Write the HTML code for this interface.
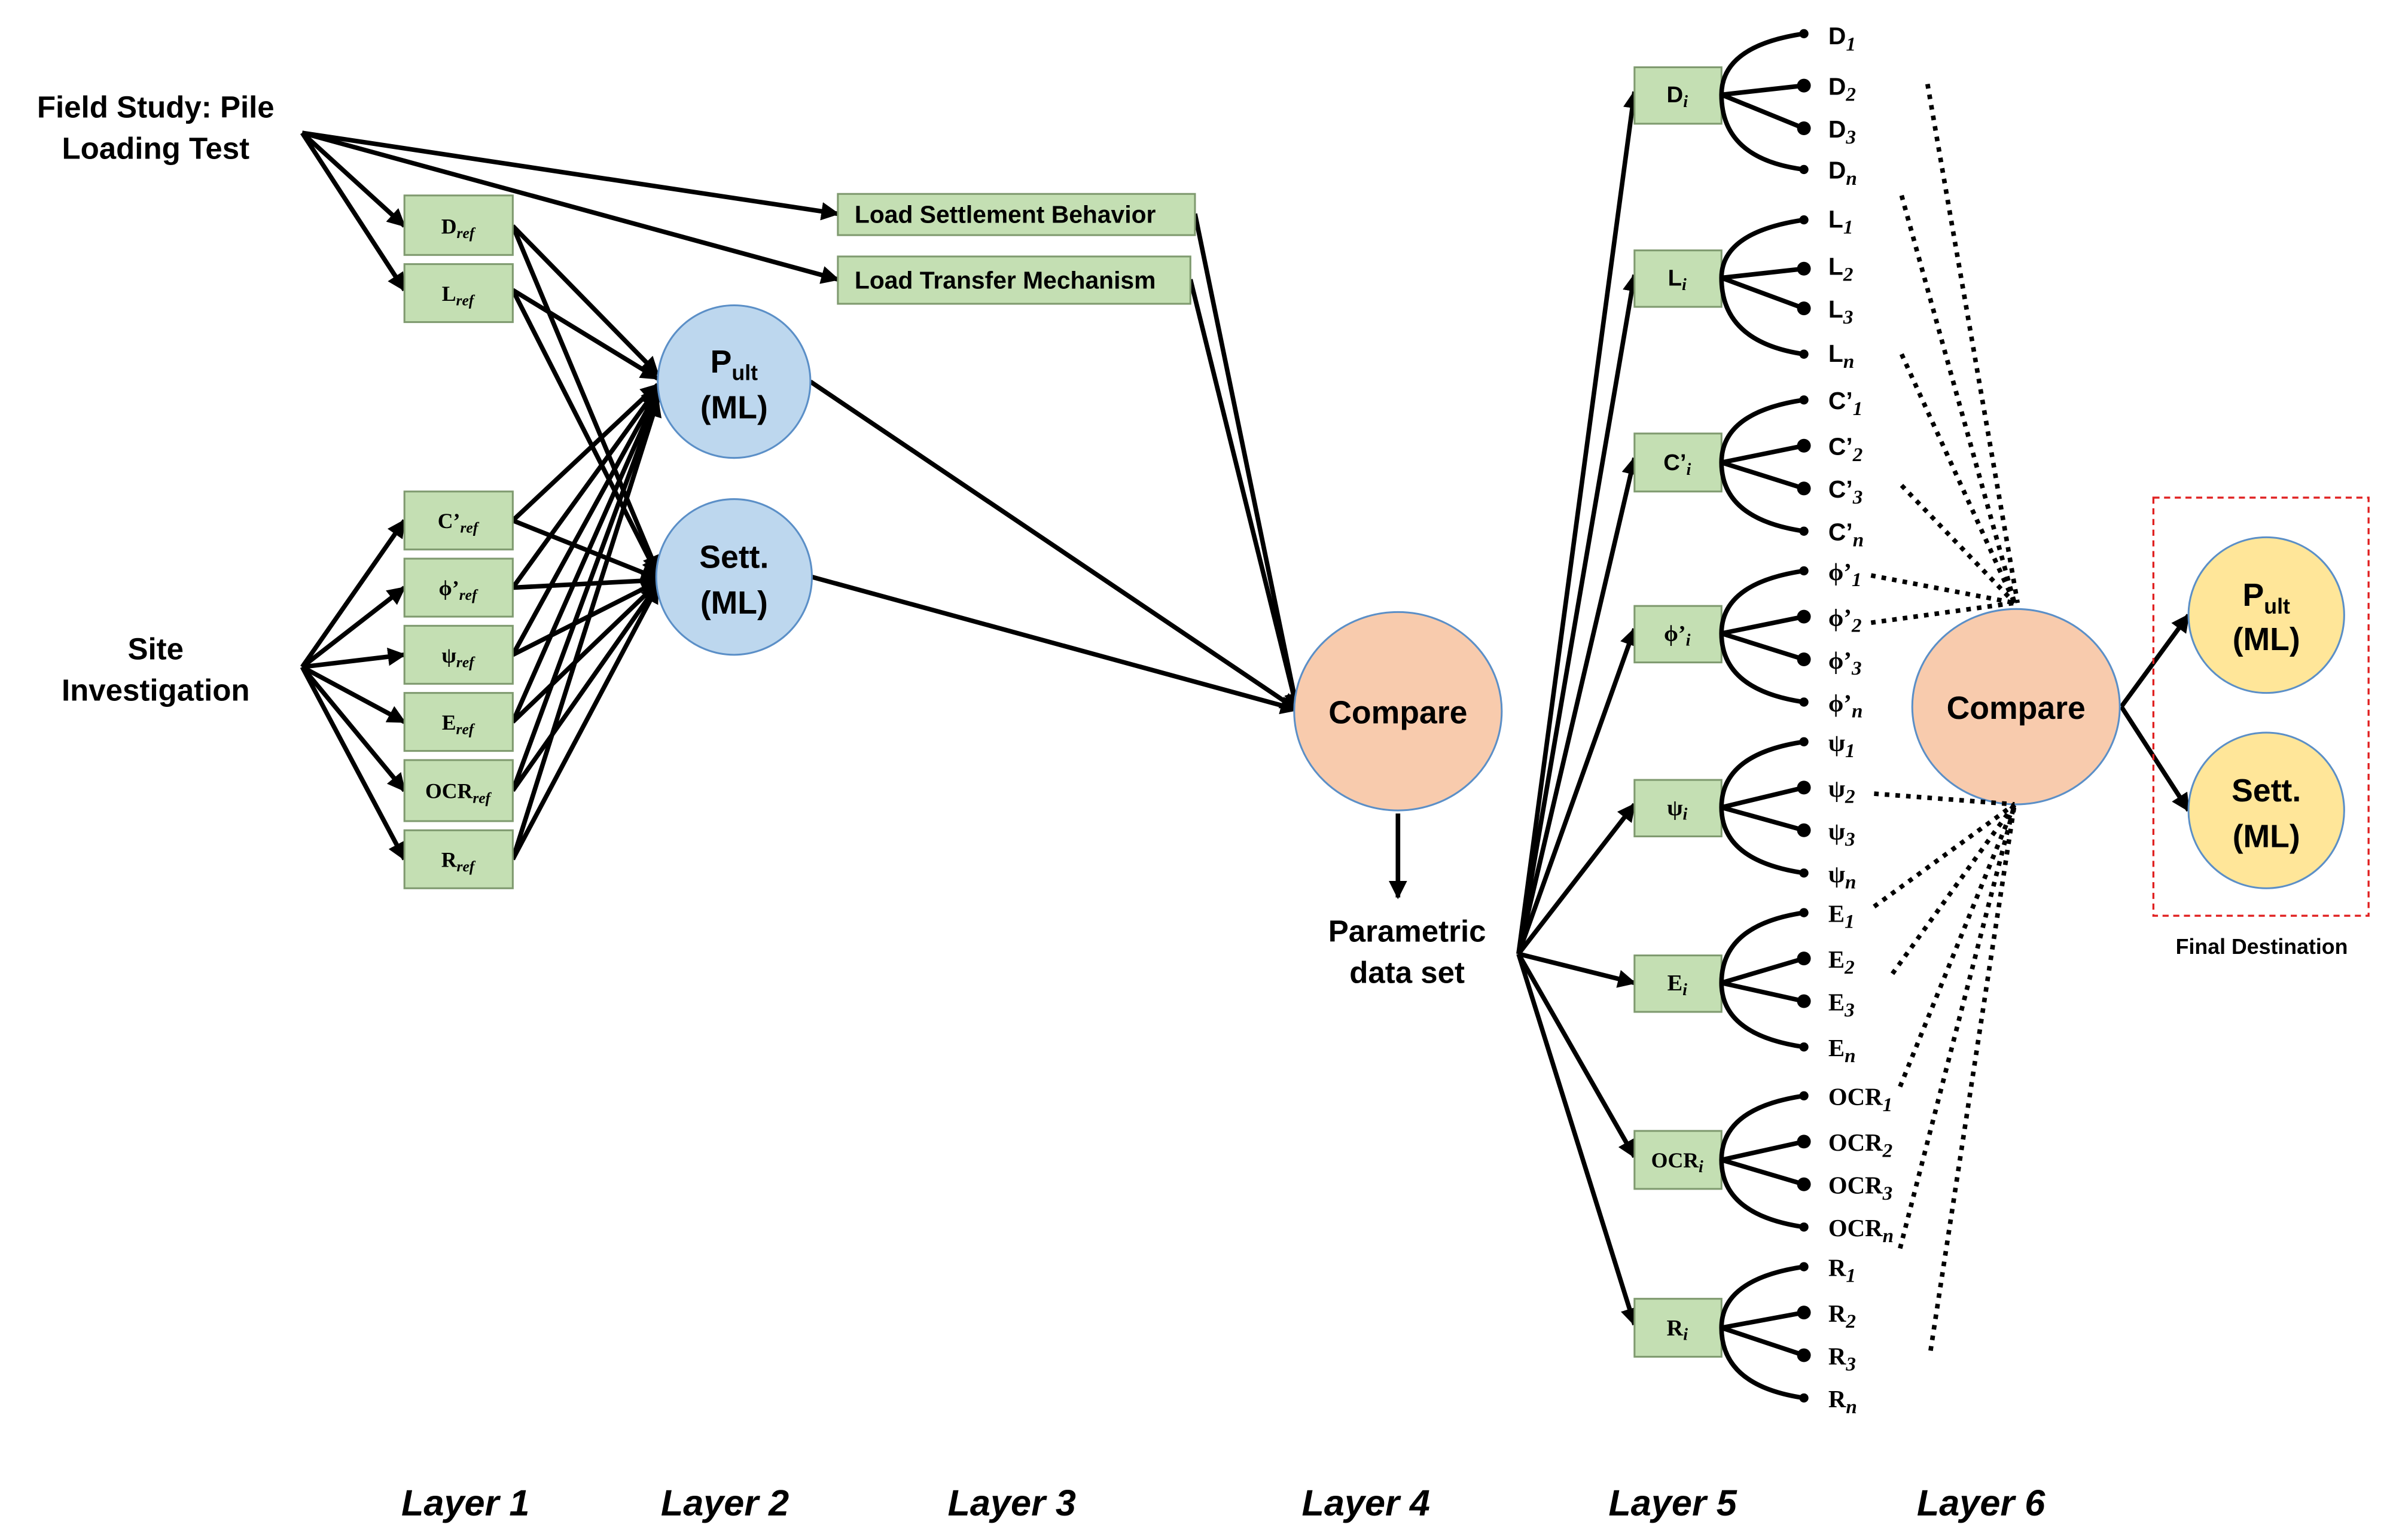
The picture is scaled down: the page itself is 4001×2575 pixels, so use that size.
<!DOCTYPE html>
<html><head><meta charset="utf-8"><style>html,body{margin:0;padding:0;background:#fff}svg{display:block}</style></head>
<body>
<svg width="4001" height="2575" viewBox="0 0 1568 1009" xmlns="http://www.w3.org/2000/svg" font-family="Liberation Sans, sans-serif">
<defs>
<marker id="a" viewBox="0 0 10 10" refX="9" refY="5" markerWidth="4" markerHeight="4" orient="auto"><path d="M0,0 L10,5 L0,10 z" fill="#000"/></marker>
</defs>
<rect width="1568" height="1009" fill="#fff"/>
<g font-weight="bold" font-size="20" text-anchor="middle">
<text x="102" y="77">Field Study: Pile</text>
<text x="102" y="104">Loading Test</text>
<text x="102" y="432">Site</text>
<text x="102" y="459">Investigation</text>
<text x="922" y="617">Parametric</text>
<text x="922" y="644">data set</text>
</g>
<g stroke="#000" stroke-width="3" fill="none" marker-end="url(#a)">
<line x1="198" y1="87" x2="265" y2="148"/>
<line x1="198" y1="87" x2="265" y2="190"/>
<line x1="198" y1="87" x2="549" y2="140"/>
<line x1="198" y1="87" x2="549" y2="183"/>
<line x1="198" y1="437" x2="265" y2="341"/>
<line x1="198" y1="437" x2="265" y2="385"/>
<line x1="198" y1="437" x2="265" y2="429"/>
<line x1="198" y1="437" x2="265" y2="473"/>
<line x1="198" y1="437" x2="265" y2="518"/>
<line x1="198" y1="437" x2="265" y2="563"/>
<line x1="336" y1="148" x2="431" y2="245"/><line x1="336" y1="148" x2="431" y2="375"/>
<line x1="336" y1="190" x2="431" y2="248"/><line x1="336" y1="190" x2="431" y2="377"/>
<line x1="336" y1="341" x2="431" y2="252"/><line x1="336" y1="341" x2="431" y2="379"/>
<line x1="336" y1="385" x2="431" y2="254"/><line x1="336" y1="385" x2="431" y2="380"/>
<line x1="336" y1="429" x2="431" y2="256"/><line x1="336" y1="429" x2="431" y2="381"/>
<line x1="336" y1="473" x2="431" y2="258"/><line x1="336" y1="473" x2="431" y2="382"/>
<line x1="336" y1="518" x2="431" y2="260"/><line x1="336" y1="518" x2="431" y2="383"/>
<line x1="336" y1="563" x2="431" y2="262"/><line x1="336" y1="563" x2="431" y2="384"/>
<line x1="531" y1="250" x2="850" y2="465"/>
<line x1="532" y1="378" x2="850" y2="465"/>
<line x1="783" y1="140" x2="850" y2="465"/>
<line x1="780" y1="183" x2="850" y2="465"/>
<line x1="916" y1="533" x2="916" y2="588"/>
<line x1="995" y1="625" x2="1071" y2="60"/>
<line x1="995" y1="625" x2="1071" y2="180"/>
<line x1="995" y1="625" x2="1071" y2="300"/>
<line x1="995" y1="625" x2="1071" y2="412"/>
<line x1="995" y1="625" x2="1071" y2="527"/>
<line x1="995" y1="625" x2="1071" y2="644"/>
<line x1="995" y1="625" x2="1071" y2="758"/>
<line x1="995" y1="625" x2="1071" y2="868"/>
<line x1="1390" y1="463" x2="1434" y2="403"/>
<line x1="1390" y1="463" x2="1434" y2="531"/>
</g>
<g fill="#c4dfb3" stroke="#7f9a6f" stroke-width="1.2">
<rect x="265" y="128" width="71" height="39"/><rect x="265" y="173" width="71" height="38"/>
<rect x="265" y="322" width="71" height="38"/><rect x="265" y="366" width="71" height="38"/>
<rect x="265" y="410" width="71" height="38"/><rect x="265" y="454" width="71" height="38"/>
<rect x="265" y="498" width="71" height="40"/><rect x="265" y="544" width="71" height="38"/>
<rect x="549" y="127" width="234" height="27"/><rect x="549" y="168" width="231" height="31"/>
<rect x="1071" y="44" width="57" height="37"/><rect x="1071" y="164" width="57" height="37"/>
<rect x="1071" y="284" width="57" height="38"/><rect x="1071" y="397" width="57" height="37"/>
<rect x="1071" y="511" width="57" height="37"/><rect x="1071" y="626" width="57" height="37"/>
<rect x="1071" y="741" width="57" height="38"/><rect x="1071" y="851" width="57" height="38"/>
</g>
<g font-weight="bold" font-size="14" text-anchor="middle" font-family="Liberation Serif, serif">
<text x="300" y="153">D<tspan font-size="10" font-style="italic" dy="3">ref</tspan></text>
<text x="300" y="197">L<tspan font-size="10" font-style="italic" dy="3">ref</tspan></text>
<text x="300" y="346">C’<tspan font-size="10" font-style="italic" dy="3">ref</tspan></text>
<text x="300" y="390">ϕ’<tspan font-size="10" font-style="italic" dy="3">ref</tspan></text>
<text x="300" y="434">ψ<tspan font-size="10" font-style="italic" dy="3">ref</tspan></text>
<text x="300" y="478">E<tspan font-size="10" font-style="italic" dy="3">ref</tspan></text>
<text x="300" y="523">OCR<tspan font-size="10" font-style="italic" dy="3">ref</tspan></text>
<text x="300" y="568">R<tspan font-size="10" font-style="italic" dy="3">ref</tspan></text>
</g>
<g font-weight="bold" font-size="15" text-anchor="middle">
<text x="1099" y="67">D<tspan font-size="11" font-style="italic" dy="3" font-family="Liberation Serif, serif">i</tspan></text>
<text x="1099" y="187">L<tspan font-size="11" font-style="italic" dy="3" font-family="Liberation Serif, serif">i</tspan></text>
<text x="1099" y="308">C’<tspan font-size="11" font-style="italic" dy="3" font-family="Liberation Serif, serif">i</tspan></text>
<text x="1099" y="420" font-family="Liberation Serif, serif">ϕ’<tspan font-size="11" font-style="italic" dy="3">i</tspan></text>
<text x="1099" y="534" font-family="Liberation Serif, serif">ψ<tspan font-size="11" font-style="italic" dy="3">i</tspan></text>
<text x="1099" y="649" font-family="Liberation Serif, serif">E<tspan font-size="11" font-style="italic" dy="3">i</tspan></text>
<text x="1099" y="765" font-family="Liberation Serif, serif" font-size="14">OCR<tspan font-size="11" font-style="italic" dy="3">i</tspan></text>
<text x="1099" y="875" font-family="Liberation Serif, serif">R<tspan font-size="11" font-style="italic" dy="3">i</tspan></text>
</g>
<g font-weight="bold" font-size="16">
<text x="560" y="146">Load Settlement Behavior</text>
<text x="560" y="189">Load Transfer Mechanism</text>
</g>
<g stroke="#5b8fc7" stroke-width="1.2" fill="#bdd7ee">
<circle cx="481" cy="250" r="50"/><circle cx="481" cy="378" r="51"/>
</g>
<g stroke="#5b8fc7" stroke-width="1.2" fill="#f8cbad">
<ellipse cx="916" cy="466" rx="68" ry="65"/><ellipse cx="1321" cy="463" rx="68" ry="64"/>
</g>
<g stroke="#5b8fc7" stroke-width="1.2" fill="#ffe699">
<circle cx="1485" cy="403" r="51"/><circle cx="1485" cy="531" r="51"/>
</g>
<rect x="1411" y="326" width="141" height="274" fill="none" stroke="#e02020" stroke-width="1.3" stroke-dasharray="4,3"/>
<g font-weight="bold" font-size="21" text-anchor="middle">
<text x="481" y="244">P<tspan font-size="14" dy="5">ult</tspan></text>
<text x="481" y="274">(ML)</text>
<text x="481" y="372">Sett.</text>
<text x="481" y="402">(ML)</text>
<text x="1485" y="397">P<tspan font-size="14" dy="5">ult</tspan></text>
<text x="1485" y="426">(ML)</text>
<text x="1485" y="525">Sett.</text>
<text x="1485" y="555">(ML)</text>
<text x="916" y="474">Compare</text>
<text x="1321" y="471">Compare</text>
</g>
<text x="1482" y="625" font-weight="bold" font-size="14" text-anchor="middle">Final Destination</text>
<g stroke="#000" stroke-width="3" fill="none">
<path d="M1182,22 Q1128,30 1128,62 Q1128,104 1182,111"/><line x1="1128" y1="62" x2="1182" y2="56"/><line x1="1128" y1="62" x2="1182" y2="84"/>
<path d="M1182,144 Q1128,152 1128,182 Q1128,224 1182,232"/><line x1="1128" y1="182" x2="1182" y2="176"/><line x1="1128" y1="182" x2="1182" y2="202"/>
<path d="M1182,262 Q1128,270 1128,303 Q1128,340 1182,348"/><line x1="1128" y1="303" x2="1182" y2="292"/><line x1="1128" y1="303" x2="1182" y2="320"/>
<path d="M1182,374 Q1128,382 1128,415 Q1128,452 1182,460"/><line x1="1128" y1="415" x2="1182" y2="404"/><line x1="1128" y1="415" x2="1182" y2="432"/>
<path d="M1182,486 Q1128,494 1128,529 Q1128,564 1182,572"/><line x1="1128" y1="529" x2="1182" y2="516"/><line x1="1128" y1="529" x2="1182" y2="544"/>
<path d="M1182,598 Q1128,606 1128,644 Q1128,678 1182,686"/><line x1="1128" y1="644" x2="1182" y2="628"/><line x1="1128" y1="644" x2="1182" y2="656"/>
<path d="M1182,718 Q1128,726 1128,760 Q1128,796 1182,804"/><line x1="1128" y1="760" x2="1182" y2="748"/><line x1="1128" y1="760" x2="1182" y2="776"/>
<path d="M1182,830 Q1128,838 1128,870 Q1128,908 1182,916"/><line x1="1128" y1="870" x2="1182" y2="860"/><line x1="1128" y1="870" x2="1182" y2="888"/>
</g>
<g fill="#000">
<circle cx="1182" cy="22" r="3"/><circle cx="1182" cy="56" r="4.5"/><circle cx="1182" cy="84" r="4.5"/><circle cx="1182" cy="111" r="3"/>
<circle cx="1182" cy="144" r="3"/><circle cx="1182" cy="176" r="4.5"/><circle cx="1182" cy="202" r="4.5"/><circle cx="1182" cy="232" r="3"/>
<circle cx="1182" cy="262" r="3"/><circle cx="1182" cy="292" r="4.5"/><circle cx="1182" cy="320" r="4.5"/><circle cx="1182" cy="348" r="3"/>
<circle cx="1182" cy="374" r="3"/><circle cx="1182" cy="404" r="4.5"/><circle cx="1182" cy="432" r="4.5"/><circle cx="1182" cy="460" r="3"/>
<circle cx="1182" cy="486" r="3"/><circle cx="1182" cy="516" r="4.5"/><circle cx="1182" cy="544" r="4.5"/><circle cx="1182" cy="572" r="3"/>
<circle cx="1182" cy="598" r="3"/><circle cx="1182" cy="628" r="4.5"/><circle cx="1182" cy="656" r="4.5"/><circle cx="1182" cy="686" r="3"/>
<circle cx="1182" cy="718" r="3"/><circle cx="1182" cy="748" r="4.5"/><circle cx="1182" cy="776" r="4.5"/><circle cx="1182" cy="804" r="3"/>
<circle cx="1182" cy="830" r="3"/><circle cx="1182" cy="860" r="4.5"/><circle cx="1182" cy="888" r="4.5"/><circle cx="1182" cy="916" r="3"/>
</g>
<g font-weight="bold" font-size="16">
<text x="1198" y="29">D<tspan font-family="Liberation Serif, serif" font-style="italic" font-size="13" dy="4">1</tspan></text>
<text x="1198" y="62">D<tspan font-family="Liberation Serif, serif" font-style="italic" font-size="13" dy="4">2</tspan></text>
<text x="1198" y="90">D<tspan font-family="Liberation Serif, serif" font-style="italic" font-size="13" dy="4">3</tspan></text>
<text x="1198" y="117">D<tspan font-family="Liberation Serif, serif" font-style="italic" font-size="13" dy="4">n</tspan></text>
<text x="1198" y="149">L<tspan font-family="Liberation Serif, serif" font-style="italic" font-size="13" dy="4">1</tspan></text>
<text x="1198" y="180">L<tspan font-family="Liberation Serif, serif" font-style="italic" font-size="13" dy="4">2</tspan></text>
<text x="1198" y="208">L<tspan font-family="Liberation Serif, serif" font-style="italic" font-size="13" dy="4">3</tspan></text>
<text x="1198" y="237">L<tspan font-family="Liberation Serif, serif" font-style="italic" font-size="13" dy="4">n</tspan></text>
<text x="1198" y="268">C’<tspan font-family="Liberation Serif, serif" font-style="italic" font-size="13" dy="4">1</tspan></text>
<text x="1198" y="298">C’<tspan font-family="Liberation Serif, serif" font-style="italic" font-size="13" dy="4">2</tspan></text>
<text x="1198" y="326">C’<tspan font-family="Liberation Serif, serif" font-style="italic" font-size="13" dy="4">3</tspan></text>
<text x="1198" y="354">C’<tspan font-family="Liberation Serif, serif" font-style="italic" font-size="13" dy="4">n</tspan></text>
</g>
<g font-weight="bold" font-size="16" font-family="Liberation Serif, serif">
<text x="1198" y="380">ϕ’<tspan font-style="italic" font-size="13" dy="4">1</tspan></text>
<text x="1198" y="410">ϕ’<tspan font-style="italic" font-size="13" dy="4">2</tspan></text>
<text x="1198" y="438">ϕ’<tspan font-style="italic" font-size="13" dy="4">3</tspan></text>
<text x="1198" y="466">ϕ’<tspan font-style="italic" font-size="13" dy="4">n</tspan></text>
<text x="1198" y="492">ψ<tspan font-style="italic" font-size="13" dy="4">1</tspan></text>
<text x="1198" y="522">ψ<tspan font-style="italic" font-size="13" dy="4">2</tspan></text>
<text x="1198" y="550">ψ<tspan font-style="italic" font-size="13" dy="4">3</tspan></text>
<text x="1198" y="578">ψ<tspan font-style="italic" font-size="13" dy="4">n</tspan></text>
<text x="1198" y="604">E<tspan font-style="italic" font-size="13" dy="4">1</tspan></text>
<text x="1198" y="634">E<tspan font-style="italic" font-size="13" dy="4">2</tspan></text>
<text x="1198" y="662">E<tspan font-style="italic" font-size="13" dy="4">3</tspan></text>
<text x="1198" y="692">E<tspan font-style="italic" font-size="13" dy="4">n</tspan></text>
<text x="1198" y="724">OCR<tspan font-style="italic" font-size="13" dy="4">1</tspan></text>
<text x="1198" y="754">OCR<tspan font-style="italic" font-size="13" dy="4">2</tspan></text>
<text x="1198" y="782">OCR<tspan font-style="italic" font-size="13" dy="4">3</tspan></text>
<text x="1198" y="810">OCR<tspan font-style="italic" font-size="13" dy="4">n</tspan></text>
<text x="1198" y="836">R<tspan font-style="italic" font-size="13" dy="4">1</tspan></text>
<text x="1198" y="866">R<tspan font-style="italic" font-size="13" dy="4">2</tspan></text>
<text x="1198" y="894">R<tspan font-style="italic" font-size="13" dy="4">3</tspan></text>
<text x="1198" y="922">R<tspan font-style="italic" font-size="13" dy="4">n</tspan></text>
</g>
<g stroke="#000" stroke-width="3" stroke-dasharray="3,4" fill="none">
<line x1="1263" y1="55" x2="1322" y2="395"/>
<line x1="1246" y1="128" x2="1320" y2="395"/>
<line x1="1246" y1="232" x2="1320" y2="395"/>
<line x1="1246" y1="318" x2="1320" y2="395"/>
<line x1="1226" y1="377" x2="1320" y2="395"/>
<line x1="1226" y1="408" x2="1320" y2="395"/>
<line x1="1228" y1="520" x2="1320" y2="527"/>
<line x1="1228" y1="594" x2="1320" y2="527"/>
<line x1="1240" y1="638" x2="1320" y2="527"/>
<line x1="1245" y1="712" x2="1320" y2="527"/>
<line x1="1245" y1="818" x2="1320" y2="527"/>
<line x1="1265" y1="885" x2="1320" y2="527"/>
</g>
<g font-weight="bold" font-style="italic" font-size="24" text-anchor="middle">
<text x="305" y="993">Layer 1</text>
<text x="475" y="993">Layer 2</text>
<text x="663" y="993">Layer 3</text>
<text x="895" y="993">Layer 4</text>
<text x="1096" y="993">Layer 5</text>
<text x="1298" y="993">Layer 6</text>
</g>
</svg>
</body></html>
